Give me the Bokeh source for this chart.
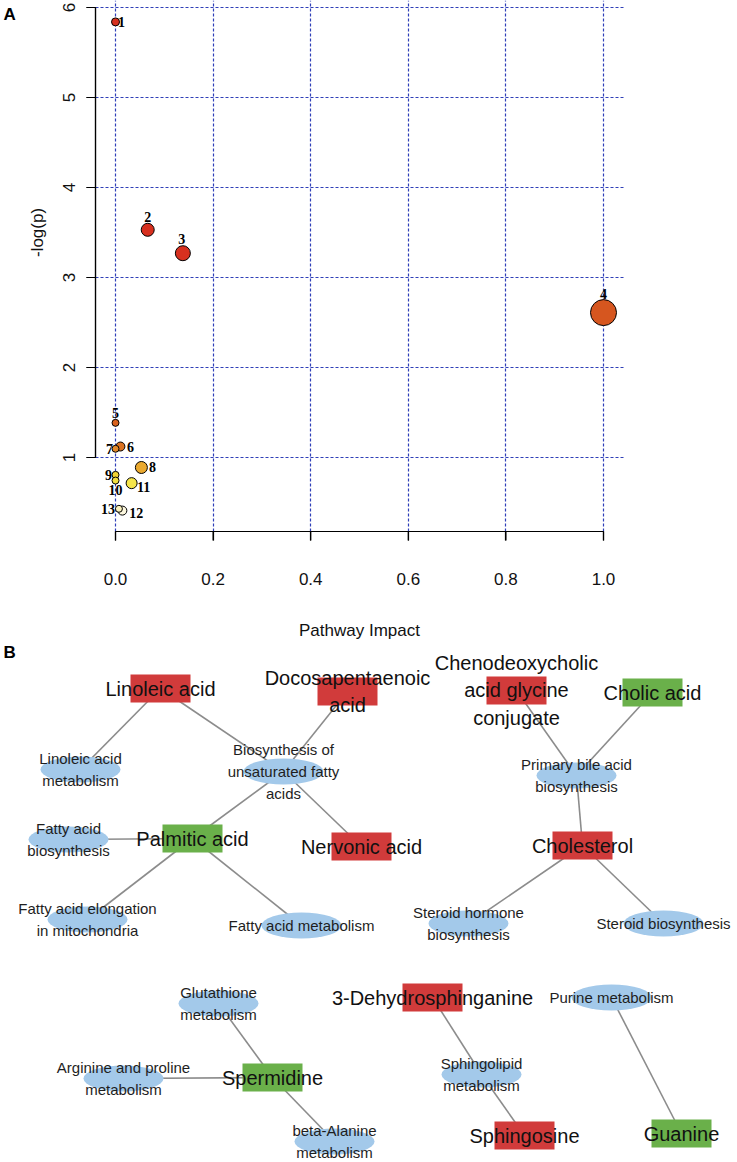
from bokeh.plotting import figure
from bokeh.models import Range1d, FixedTicker, Label, ColumnDataSource
from bokeh.layouts import column
from bokeh.embed import file_html
from bokeh.resources import INLINE
from bokeh.core.properties import value

# ---------------- Panel A data ----------------
pathway_id = ["1", "2", "3", "4", "5", "6", "7", "8", "9", "10", "11", "12", "13"]
pathway_impact = [0.0, 0.066, 0.138, 1.0, 0.0, 0.010, 0.0, 0.053, 0.0, 0.0, 0.033, 0.014, 0.007]
neg_log_p = [5.84, 3.53, 3.27, 2.61, 1.385, 1.122, 1.097, 0.889, 0.807, 0.744, 0.715, 0.41, 0.43]
x_ticks = [0.0, 0.2, 0.4, 0.6, 0.8, 1.0]
x_tick_labels = ["0.0", "0.2", "0.4", "0.6", "0.8", "1.0"]
y_ticks = [1, 2, 3, 4, 5, 6]
y_tick_labels = ["1", "2", "3", "4", "5", "6"]

# styles for panel A
bubble_px = [8, 13, 15, 26, 7, 9, 7, 12, 7, 7, 11, 9, 7]
bubble_color = ["#d7301f", "#d7301f", "#d7301f", "#d6561f", "#d9621f", "#dc7322",
                "#e3892a", "#eaa92f", "#f2d535", "#f3df40", "#f5e54a", "#fdf8df", "#faf1bd"]
label_dx = [6, 0, -1, 0, 0, 10, -6, 11, -7, 0, 12, 14, -11]
label_dy = [0, -13, -14, -19, -10, 0, 0, 0, 0, 9, 4, 2, 0]

# ---------------- Panel B data ----------------
metabolites = ["Linoleic acid", "Docosapentaenoic\nacid", "Palmitic acid", "Nervonic acid",
               "Chenodeoxycholic\nacid glycine\nconjugate", "Cholic acid", "Cholesterol",
               "Spermidine", "3-Dehydrosphinganine", "Sphingosine", "Guanine"]
metabolite_change = ["up", "up", "down", "up", "up", "down", "up", "down", "up", "up", "down"]
pathways = ["Linoleic acid\nmetabolism", "Biosynthesis of\nunsaturated fatty\nacids",
            "Fatty acid\nbiosynthesis", "Fatty acid elongation\nin mitochondria",
            "Fatty acid metabolism", "Primary bile acid\nbiosynthesis",
            "Steroid hormone\nbiosynthesis", "Steroid biosynthesis",
            "Glutathione\nmetabolism", "Arginine and proline\nmetabolism",
            "beta-Alanine\nmetabolism", "Sphingolipid\nmetabolism", "Purine metabolism"]
edges = [(0, 0), (0, 1), (1, 1), (2, 1), (3, 1), (2, 2), (2, 3), (2, 4),
         (4, 5), (5, 5), (6, 5), (6, 6), (6, 7),
         (7, 8), (7, 9), (7, 10), (8, 11), (9, 11), (10, 12)]

# network layout (node centres)
met_x = [160, 347, 192, 361, 516, 652, 582, 272, 432, 524, 681]
met_y = [688, 691, 838, 846, 690, 692, 845, 1077, 997, 1135, 1133]
path_x = [80, 283, 68, 87, 301, 576, 468, 663, 218, 123, 334, 481, 611]
path_y = [769, 771, 839, 919, 925, 775, 923, 923, 1003, 1078, 1141, 1074, 997]
change_color = {"up": "#d13b3b", "down": "#6ab04a"}

FONT = "Liberation Sans"
SPLIT = 641   # page row where panel B starts

# ================= Panel A =================
X_LO, X_HI = -0.041, 1.041     # R plot region
Y_LO, Y_HI = 0.178, 6.078
TICK_X, TICK_Y = 9 / 488.0, 9 / 90.0
pa = figure(frame_width=737, frame_height=SPLIT, min_border=0,
            x_range=Range1d(-0.2357, 1.2746),
            y_range=Range1d(1 - (SPLIT - 457) / 90.0, 6.0778),
            output_backend="svg", toolbar_location=None)
pa.outline_line_color = None

pa.xaxis.fixed_location = Y_LO
pa.yaxis.fixed_location = X_LO
pa.xaxis.ticker = FixedTicker(ticks=x_ticks)
pa.yaxis.ticker = FixedTicker(ticks=y_ticks)
pa.xaxis.major_label_overrides = dict(zip(x_ticks, x_tick_labels))
pa.yaxis.major_label_overrides = dict(zip(y_ticks, y_tick_labels))
pa.xaxis.bounds = (x_ticks[0], x_ticks[-1])
pa.yaxis.bounds = (y_ticks[0], y_ticks[-1])
for ax in (pa.xaxis, pa.yaxis):
    ax.minor_tick_line_color = None
    ax.major_tick_in = 0
    ax.major_tick_out = 9
    ax.axis_line_color = "#000000"
    ax.axis_line_width = 1.2
    ax.major_tick_line_color = "#000000"
    ax.major_tick_line_width = 1.2
    ax.major_label_text_font = FONT
    ax.major_label_text_font_size = "17px"
    ax.major_label_text_color = "#111111"
    ax.axis_label_text_font = FONT
    ax.axis_label_text_font_size = "17px"
    ax.axis_label_text_font_style = "normal"
    ax.axis_label_text_color = "#111111"
pa.xaxis.axis_label = "Pathway Impact"
pa.yaxis.axis_label = "-log(p)"
pa.xaxis.major_label_standoff = 33
pa.xaxis.axis_label_standoff = 32
pa.yaxis.major_label_orientation = "vertical"
pa.yaxis.major_label_standoff = 12
pa.yaxis.axis_label_standoff = 13

pa.xgrid.ticker = FixedTicker(ticks=x_ticks)
pa.ygrid.ticker = FixedTicker(ticks=y_ticks)
pa.xgrid.bounds = (x_ticks[0], x_ticks[-1])
pa.ygrid.bounds = (y_ticks[0], y_ticks[-1])
pa.xgrid.cross_bounds = (Y_LO, Y_HI)
pa.ygrid.cross_bounds = (X_LO, X_HI)
for g in (pa.xgrid, pa.ygrid):
    g.grid_line_color = "#2f3fb8"
    g.grid_line_dash = "3 2"
    g.grid_line_width = 1.2

# axis rules and ticks (same places as the axes above, drawn from the tick lists)
nx, ny = len(x_ticks), len(y_ticks)
pa.segment(x0=[x_ticks[0]] + x_ticks, y0=[Y_LO] * (nx + 1),
           x1=[x_ticks[-1]] + x_ticks, y1=[Y_LO] + [Y_LO - TICK_Y] * nx,
           line_color="#000000", line_width=1.2)
pa.segment(x0=[X_LO] * (ny + 1), y0=[y_ticks[0]] + y_ticks,
           x1=[X_LO] + [X_LO - TICK_X] * ny, y1=[y_ticks[-1]] + y_ticks,
           line_color="#000000", line_width=1.2)

src_a = ColumnDataSource(dict(x=pathway_impact, y=neg_log_p, s=bubble_px, c=bubble_color,
                              t=pathway_id, dx=label_dx, dy=label_dy))
pa.scatter("x", "y", size="s", fill_color="c", line_color="black", line_width=1,
           marker="circle", source=src_a)
pa.text("x", "y", text="t", x_offset="dx", y_offset="dy", source=src_a,
        text_font=value("Liberation Serif"), text_font_style="bold",
        text_font_size="14px", text_align="center", text_baseline="middle",
        text_color="black")

pa.add_layout(Label(x=-0.2295, y=5.922, text="A", text_font=FONT, text_font_style="bold",
                    text_font_size="17px", text_align="left", text_baseline="middle",
                    text_color="black"))

# ================= Panel B =================
pb = figure(frame_width=737, frame_height=1162 - SPLIT, min_border=0,
            x_range=Range1d(0, 737), y_range=Range1d(1162, SPLIT),
            x_axis_type=None, y_axis_type=None,
            output_backend="svg", toolbar_location=None)
pb.outline_line_color = None
pb.xgrid.visible = False
pb.ygrid.visible = False

x0 = [met_x[m] for m, q in edges]
y0 = [met_y[m] for m, q in edges]
x1 = [path_x[q] for m, q in edges]
y1 = [path_y[q] for m, q in edges]
pb.segment(x0=x0, y0=y0, x1=x1, y1=y1, line_color="#8c8c8c", line_width=1.6)

pb.ellipse(x=path_x, y=path_y, width=80, height=26, width_units="screen",
           height_units="screen", fill_color="#a3c9ea", line_color=None)
pb.rect(x=met_x, y=met_y, width=60, height=28, width_units="screen", height_units="screen",
        fill_color=[change_color[c] for c in metabolite_change], line_color=None)

pb.text(x=path_x, y=path_y, text=pathways, text_font=value(FONT), text_font_size="15px",
        text_align="center", text_baseline="middle", text_line_height=1.28,
        text_color="#1e1e1e")
pb.text(x=met_x, y=met_y, text=metabolites, text_font=value(FONT), text_font_size="20px",
        text_align="center", text_baseline="middle", text_line_height=1.24,
        text_color="#111111")

pb.add_layout(Label(x=3, y=652, text="B", text_font=FONT, text_font_style="bold",
                    text_font_size="17px", text_align="left", text_baseline="middle",
                    text_color="black"))

layout = column(pa, pb, spacing=0)
open("out.html", "w").write(file_html(layout, INLINE))
